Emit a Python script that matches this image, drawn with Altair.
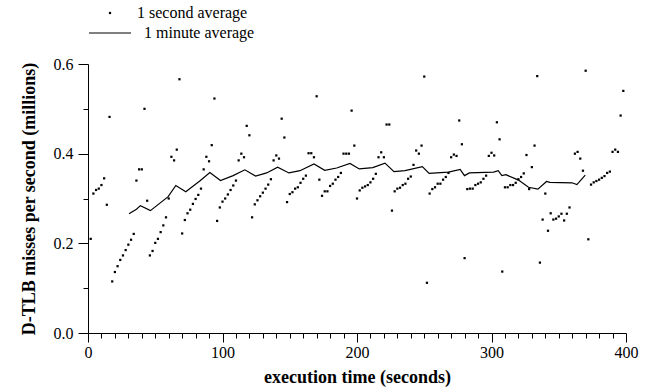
import altair as alt
import pandas as pd

FONT = "Liberation Serif"

# 1 second average samples (seconds, millions of misses per second)
sec_times = list(range(2, 360, 2)) + list(range(362, 400, 2))
sec_values = [
    0.210, 0.311, 0.319, 0.322, 0.330, 0.345, 0.286, 0.482, 0.115, 0.136,
    0.149, 0.163, 0.173, 0.185, 0.197, 0.208, 0.221, 0.340, 0.365, 0.365,
    0.500, 0.295, 0.173, 0.183, 0.201, 0.210, 0.225, 0.240, 0.258, 0.300,
    0.393, 0.385, 0.409, 0.566, 0.222, 0.252, 0.267, 0.275, 0.288, 0.299,
    0.308, 0.322, 0.365, 0.393, 0.383, 0.419, 0.523, 0.250, 0.280, 0.293,
    0.300, 0.309, 0.319, 0.329, 0.340, 0.385, 0.400, 0.392, 0.462, 0.441,
    0.258, 0.287, 0.296, 0.305, 0.313, 0.322, 0.331, 0.343, 0.385, 0.396,
    0.389, 0.478, 0.436, 0.292, 0.310, 0.314, 0.322, 0.325, 0.335, 0.344,
    0.351, 0.401, 0.401, 0.392, 0.528, 0.342, 0.306, 0.316, 0.316, 0.328,
    0.333, 0.342, 0.348, 0.357, 0.400, 0.400, 0.400, 0.496, 0.418, 0.300,
    0.318, 0.324, 0.327, 0.330, 0.336, 0.344, 0.355, 0.392, 0.403, 0.392,
    0.465, 0.465, 0.273, 0.316, 0.322, 0.324, 0.330, 0.333, 0.344, 0.349,
    0.375, 0.407, 0.400, 0.418, 0.572, 0.112, 0.311, 0.321, 0.325, 0.333,
    0.333, 0.342, 0.348, 0.357, 0.392, 0.398, 0.395, 0.474, 0.421, 0.167,
    0.321, 0.322, 0.322, 0.330, 0.333, 0.336, 0.344, 0.351, 0.395, 0.402,
    0.396, 0.470, 0.432, 0.137, 0.325, 0.325, 0.330, 0.330, 0.335, 0.343,
    0.348, 0.356, 0.397, 0.321, 0.370, 0.418, 0.573, 0.157, 0.253, 0.311,
    0.228, 0.267, 0.253, 0.255, 0.260, 0.266, 0.251, 0.266, 0.280,
    0.400, 0.404, 0.389, 0.362, 0.585, 0.209, 0.331, 0.336, 0.339, 0.342,
    0.346, 0.350, 0.357, 0.360, 0.404, 0.409, 0.404, 0.485, 0.540,
]

# 1 minute average curve
min_times = [30.5, 36.0, 39.0, 46.4, 59.6, 65.3, 72.7, 83.1, 90.6, 98.5,
             107.9, 116.6, 124.6, 132.8, 141.0, 149.4, 157.6, 168.0, 176.0, 184.9,
             194.8, 201.7, 211.7, 220.8, 227.5, 235.7, 248.6, 253.6, 268.0, 276.7,
             279.9, 283.6, 301.5, 305.0, 307.7, 310.7, 320.1, 327.5, 334.5, 340.9,
             343.4, 359.8, 363.5, 369.7]
min_values = [0.266, 0.276, 0.284, 0.273, 0.304, 0.329, 0.315, 0.339, 0.358, 0.340,
              0.351, 0.364, 0.350, 0.357, 0.370, 0.357, 0.362, 0.377, 0.363, 0.368,
              0.378, 0.366, 0.369, 0.379, 0.360, 0.362, 0.371, 0.356, 0.359, 0.365,
              0.351, 0.357, 0.359, 0.362, 0.351, 0.353, 0.341, 0.325, 0.321, 0.338,
              0.336, 0.335, 0.331, 0.352]

# axis ticks (major ticks are labelled, the rest are short minor ticks)
x_ticks = list(range(0, 401, 10))
y_ticks = [0.0, 0.1, 0.2, 0.3, 0.4, 0.5, 0.6]

SEC_LABEL = "1 second average"
MIN_LABEL = "1 minute average"

sec_df = pd.DataFrame({"t": sec_times, "v": sec_values, "s": SEC_LABEL})
min_df = pd.DataFrame({"t": min_times, "v": min_values, "m": MIN_LABEL})

xscale = alt.Scale(domain=[0, 400], nice=False, zero=False)
yscale = alt.Scale(domain=[0, 0.6], nice=False)

X_MINOR = "datum.value % 100 !== 0"
Y_MINOR = "round(datum.value * 10) % 2 !== 0"

common_axis = dict(grid=False, domainColor="black", tickColor="black",
                   labelFont=FONT, labelFontSize=16, labelColor="black",
                   titleFont=FONT, titleFontSize=18, titleFontWeight="bold",
                   titleColor="black", tickWidth=1, domainWidth=1,
                   labelFlush=False, labelOverlap=False, tickCount=100)

axis_x = alt.Axis(values=x_ticks, tickSize=9, labelPadding=2,
                  tickDash={"condition": {"test": X_MINOR, "value": [5, 40]}, "value": [40, 0]},
                  labelExpr=f"{X_MINOR} ? '' : format(datum.value, 'd')",
                  title="execution time (seconds)", titlePadding=8,
                  orient="bottom", **common_axis)
axis_y = alt.Axis(values=y_ticks, tickSize=10, labelPadding=5,
                  tickDash={"condition": {"test": Y_MINOR, "value": [5, 40]}, "value": [40, 0]},
                  labelExpr=f"{Y_MINOR} ? '' : format(datum.value, '.1f')",
                  title="D-TLB misses per second (millions)", titlePadding=15,
                  orient="left", **common_axis)

X = alt.X("t:Q", scale=xscale, axis=axis_x)
Y = alt.Y("v:Q", scale=yscale, axis=axis_y)

legend_common = dict(title=None, orient="none", labelFont=FONT, labelFontSize=16,
                     labelColor="black", padding=0)

points = alt.Chart(sec_df).mark_point(filled=True, color="black", size=5, opacity=1).encode(
    x=X,
    y=Y,
    shape=alt.Shape("s:N", scale=alt.Scale(domain=[SEC_LABEL], range=["square"]),
                    legend=alt.Legend(legendX=14, legendY=-59, symbolSize=5,
                                      symbolFillColor="black", symbolStrokeColor="black",
                                      symbolStrokeWidth=0, labelOffset=19,
                                      **legend_common)),
)

line = alt.Chart(min_df).mark_line(color="black", strokeWidth=1.2).encode(
    x=X,
    y=Y,
    color=alt.Color("m:N", scale=alt.Scale(domain=[MIN_LABEL], range=["black"]),
                    legend=alt.Legend(legendX=0, legendY=-53, symbolType="stroke",
                                      symbolSize=1764, symbolStrokeWidth=1.2,
                                      symbolStrokeColor="black", labelOffset=12,
                                      **legend_common)),
)

chart = alt.layer(line, points).resolve_legend(
    shape="independent", color="independent"
).properties(
    width=538, height=269,
    padding={"left": 88, "top": 64, "right": 21, "bottom": 54},
    autosize=alt.AutoSizeParams(type="none"),
    background="white",
).configure_view(stroke=None)

chart.save("out.html", embed_options={"renderer": "svg", "actions": False})
